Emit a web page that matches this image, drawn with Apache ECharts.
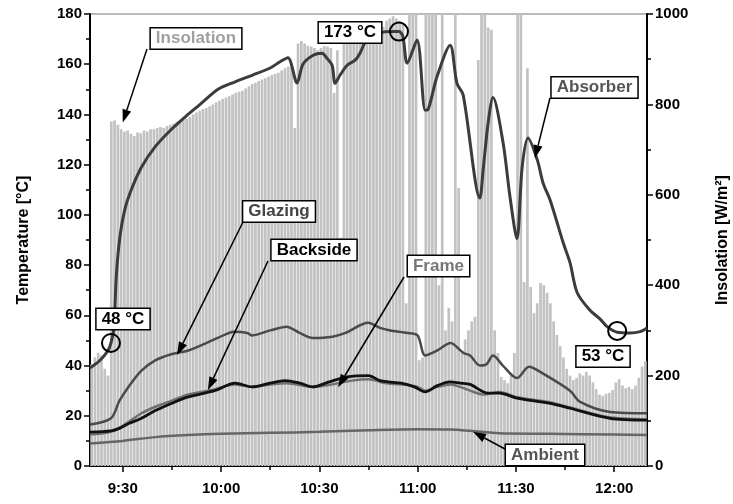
<!DOCTYPE html>
<html><head><meta charset="utf-8">
<script src="https://cdn.jsdelivr.net/npm/echarts@6/dist/echarts.min.js"></script>
<style>html,body{margin:0;padding:0;background:#fff}#c{width:733px;height:504px}</style>
</head><body><div id="c"></div>
<script>
// ---------- DATA ----------
const xTickLabels = ["9:30","10:00","10:30","11:00","11:30","12:00"];
const xMinorTicks = ["9:45","10:15","10:45","11:15","11:45"];
const xRange = ["9:20","12:10"];
const insolationStart = "9:20";   // one bar per minute
const insolation = [
 225,240,250,245,215,200,
 762,765,755,745,740,742,735,730,738,736,
 742,740,745,745,748,750,748,752,755,758,762,765,765,768,
 772,778,782,786,790,792,796,800,
 805,808,812,815,818,
 822,826,828,830,835,
 840,845,848,852,855,
 858,862,865,868,870,875,
 880,884,888,
 748,
 935,940,935,930,928,925,920,925,930,928,925,
 825,920,505,
 935,940,938,942,935,945,950,948,
 960,965,968,970,972,
 985,990,995,990,985,980,
 360,1000,1000,1000,234,240,1000,1000,1000,
 1000,400,1000,300,350,320,1000,615,250,280,300,320,330,898,1000,1000,970,965,300,250,197,190,183,200,250,1000,1000,
 407,880,396,338,360,405,400,383,
 360,320,290,265,240,215,200,190,195,205,200,208,200,185,170,158,155,160,162,168,185,192,178,172,175,170,178,195,220,232
];
const absorber = [
 ["9:20",39],["9:23",42],["9:25.5",46],["9:26.4",49],["9:27.3",55],["9:28",75],["9:29.1",91],["9:30.6",102],
 ["9:32.6",110],["9:35.7",119],["9:39.8",127],["9:44.8",134],["9:49.9",140],["9:53.6",144],["9:59.1",150],
 ["10:04.3",153],["10:09.5",155.6],["10:15",158.5],["10:18",161],["10:20.4",162.6],["10:23.2",152.5],["10:25",160],
 ["10:28.1",163.6],["10:30.8",164.4],["10:32.3",162.4],["10:33.9",159.6],["10:34.8",152.4],["10:36.3",155.6],
 ["10:38.5",159.6],["10:40.9",161.6],["10:42.4",164.4],["10:44.9",170.8],["10:48.5",172.5],["10:51.6",173],
 ["10:54.3",173],["10:55.5",171],["10:56.8",160.4],["10:59.8",169.6],["11:02.3",141.7],["11:03.2",142],
 ["11:05.9",155],["11:09.9",167.6],["11:12",152.4],["11:13.9",147.7],["11:19",106.7],["11:20",118],
 ["11:21.5",136.5],["11:23",146.7],["11:26.1",128.5],["11:28.2",107],["11:30.3",90.5],["11:31.9",119],
 ["11:33.7",130.6],["11:36.5",122],["11:38.3",112.6],["11:40.4",106],["11:44.4",89],["11:46.5",81],
 ["11:48.7",69],["11:52.6",62],["11:55.7",58.5],["11:57.8",55.5],["12:00.9",53.3],["12:04.8",53],
 ["12:07.9",53.5],["12:10",55]
];
const glazing = [
 ["9:20",16.5],["9:26.4",19],["9:29",26],["9:32",32],["9:35.7",38],["9:39.8",42],["9:44.8",44.5],["9:50",46],
 ["9:59",51],["10:04",53.5],["10:08",53],["10:09.5",52],["10:15",54],["10:20",55.5],["10:24",53],["10:28",51],
 ["10:34",51.5],["10:38",53],["10:44.9",57],["10:48.5",55],["10:51.6",54],["10:57",53],["11:00",52],
 ["11:02.3",44],["11:06",46],["11:10",49],["11:14",45],["11:16",44],["11:19",40],["11:21",40.5],["11:23",44],
 ["11:26",40],["11:30.3",35],["11:34",39.5],["11:38",37],["11:46.5",30],["11:49.6",25.5],["11:58.7",21.5],["12:10",21]
];
const backside = [
 ["9:20",13.5],["9:26.4",14],["9:29",15],["9:32",17],["9:35.7",19],["9:39.8",22],["9:45",25],["9:50",27.5],
 ["9:58",30],["10:04.3",33],["10:09.5",31.5],["10:15",33],["10:19.5",34],["10:24",33],["10:28",31.5],
 ["10:33",33.5],["10:38.5",35.5],["10:45",36],["10:48.5",34],["10:51",33.5],["10:55",33],["10:59",31.5],
 ["11:02.3",29.5],["11:06",32],["11:09.9",33.5],["11:13",33],["11:16",32.5],["11:21.5",29],["11:25",29],
 ["11:30.3",27],["11:40",25],["11:46.5",23],["11:58.7",19],["12:10",18.3]
];
const frame = [
 ["9:20",12.5],["9:26",13.5],["9:30",16],["9:35.7",21],["9:39.8",23.5],["9:45",26],["9:50",28.5],["9:58",30.5],
 ["10:04",32.5],["10:09.5",31.5],["10:15",32.5],["10:20",33],["10:28",31.5],["10:34",32.5],["10:40",34],
 ["10:45",34.5],["10:50",33],["10:55",32.5],["11:00",31.5],["11:02.3",30],["11:06",31.5],["11:10",32.5],
 ["11:16",30],["11:20",28.5],["11:25",29.5],["11:30",27.5],["11:40",25.5],["11:46",23.5],["11:58",19.5],["12:10",18.5]
];
const ambient = [
 ["9:20",9],["9:30",10],["9:40",11.5],["9:50",12.3],["10:00",12.8],["10:15",13.2],["10:30",13.6],["10:45",14.2],
 ["11:00",14.6],["11:10",14.5],["11:16",14],["11:25",13],["11:40",12.8],["12:00",12.5],["12:10",12.3]
];
const tempTicks = {min:0, max:180, step:20};
const insTicks = {min:0, max:1000, step:200};

// ---------- HELPERS ----------
function tm(s){const p=s.split(':');return (+p[0])*60+parseFloat(p[1]);}
function fmt(v){const h=Math.floor(v/60), m=Math.round(v-h*60);return h+':'+(m<10?'0':'')+m;}
const pts = arr => arr.map(d=>[tm(d[0]), d[1]]);
const FONT = '"Liberation Sans", Arial, Helvetica, sans-serif';
const t0 = tm(insolationStart);

const chart = echarts.init(document.getElementById('c'), null, {renderer:'canvas'});
const axisLbl = {color:'#000', fontSize:15, fontWeight:'bold', fontFamily:FONT};
const lineStyleBlack = {color:'#000', width:2};

const option = {
  animation:false,
  backgroundColor:'#fff',
  grid:{left:90, right:86, top:14, bottom:38, outerBoundsMode:'none', containLabel:false,
        show:true, borderColor:'#777', borderWidth:1},
  xAxis:[
    {type:'value', min:tm(xRange[0]), max:tm(xRange[1]), position:'bottom',
     axisLine:{show:true, onZero:false, lineStyle:lineStyleBlack},
     axisTick:{show:true, length:6, customValues:xTickLabels.map(tm), lineStyle:{color:'#000', width:1.5}},
     axisLabel:{...axisLbl, margin:15, customValues:xTickLabels.map(tm), formatter:fmt},
     splitLine:{show:false}},
    {type:'value', min:tm(xRange[0]), max:tm(xRange[1]), position:'bottom',
     axisLine:{show:false},
     axisTick:{show:true, length:4, customValues:xMinorTicks.map(tm), lineStyle:{color:'#000', width:1.5}},
     axisLabel:{show:false}, splitLine:{show:false}}
  ],
  yAxis:[
    {type:'value', min:tempTicks.min, max:tempTicks.max, interval:tempTicks.step, position:'left',
     name:'Temperature [°C]', nameLocation:'middle', nameGap:58, nameRotate:90,
     nameTextStyle:{color:'#000', fontSize:16, fontWeight:'bold', fontFamily:FONT},
     axisLine:{show:true, lineStyle:lineStyleBlack},
     axisTick:{show:true, length:6, lineStyle:{color:'#000', width:1.5}},
     minorTick:{show:true, splitNumber:2, length:4, lineStyle:{color:'#000', width:1.5}},
     axisLabel:{...axisLbl, margin:8, formatter:v=>String(v)}, splitLine:{show:false}},
    {type:'value', min:insTicks.min, max:insTicks.max, interval:insTicks.step, position:'right',
     name:'Insolation [W/m²]', nameLocation:'middle', nameGap:68, nameRotate:90,
     nameTextStyle:{color:'#000', fontSize:16, fontWeight:'bold', fontFamily:FONT},
     axisLine:{show:true, lineStyle:lineStyleBlack},
     axisTick:{show:true, length:6, lineStyle:{color:'#000', width:1.5}},
     minorTick:{show:true, splitNumber:2, length:4, lineStyle:{color:'#000', width:1.5}},
     axisLabel:{...axisLbl, margin:8, formatter:v=>String(v)}, splitLine:{show:false}}
  ],
  series:[
    {name:'Insolation', type:'bar', xAxisIndex:0, yAxisIndex:1, barWidth:2.7, z:1,
     itemStyle:{color:'#c2c2c2'}, data:insolation.map((v,i)=>[t0+i+0.5, v])},
    {name:'Ambient', type:'line', yAxisIndex:0, showSymbol:false, smooth:0.3, z:3,
     lineStyle:{color:'#666', width:2.5}, data:pts(ambient)},
    {name:'Frame', type:'line', yAxisIndex:0, showSymbol:false, smooth:0.3, z:3,
     lineStyle:{color:'#707070', width:2.5}, data:pts(frame)},
    {name:'Backside', type:'line', yAxisIndex:0, showSymbol:false, smooth:0.3, z:4,
     lineStyle:{color:'#111', width:2.8}, data:pts(backside)},
    {name:'Glazing', type:'line', yAxisIndex:0, showSymbol:false, smooth:0.3, z:4,
     lineStyle:{color:'#4a4a4a', width:2.5}, data:pts(glazing)},
    {name:'Absorber', type:'line', yAxisIndex:0, showSymbol:false, smooth:0.3, z:5,
     lineStyle:{color:'#3c3c3c', width:3}, data:pts(absorber)}
  ]
};
chart.setOption(option);

// ---------- ANNOTATIONS ----------
const labels = [
  {text:'Insolation', color:'#a0a0a0', cx:196, cy:38.5, from:[147,49], to:['9:30',760], axis:1},
  {text:'Absorber', color:'#555', cx:594.5, cy:87.5, from:[550,98], to:['11:35.8',122.6], axis:0},
  {text:'Glazing', color:'#444', cx:279, cy:211.5, from:[243,222], to:['9:46.6',44.2], axis:0},
  {text:'Backside', color:'#000', cx:314, cy:250, from:[268,261], to:['9:56',30.3], axis:0},
  {text:'Frame', color:'#777', cx:438.5, cy:266, from:[404,277], to:['10:35.7',31.4], axis:0},
  {text:'Ambient', color:'#555', cx:545, cy:455, from:[505,449], to:['11:16.9',13.6], axis:0},
  {text:'173 °C', color:'#000', cx:350, cy:32.5},
  {text:'48 °C', color:'#000', cx:123, cy:319},
  {text:'53 °C', color:'#000', cx:603, cy:356.5}
];
const circles = [["9:26.4",49],["10:54.3",173],["12:00.9",53.8]];

const g = [];
labels.forEach(l=>{
  if(l.to){
    const tip = chart.convertToPixel({xAxisIndex:0, yAxisIndex:l.axis}, [tm(l.to[0]), l.to[1]]);
    const [x1,y1]=l.from, [x2,y2]=tip;
    const dx=x2-x1, dy=y2-y1, L=Math.hypot(dx,dy), ux=dx/L, uy=dy/L;
    const hl=13, hw=4.5;
    const bx=x2-ux*hl, by=y2-uy*hl;
    g.push({type:'line', z:50, shape:{x1, y1, x2:bx, y2:by}, style:{stroke:'#000', lineWidth:1.5}});
    g.push({type:'polygon', z:50, shape:{points:[[x2,y2],[bx-uy*hw,by+ux*hw],[bx+uy*hw,by-ux*hw]]}, style:{fill:'#000'}});
  }
  g.push({type:'text', z:60, x:l.cx, y:l.cy, style:{text:l.text, fill:l.color, font:'bold 17px '+FONT,
    align:'center', verticalAlign:'middle', backgroundColor:'#fff', borderColor:'#000', borderWidth:1.5, padding:[2,5,1,5]}});
});
circles.forEach(c=>{
  const p = chart.convertToPixel({xAxisIndex:0, yAxisIndex:0}, [tm(c[0]), c[1]]);
  g.push({type:'circle', z:55, shape:{cx:p[0], cy:p[1], r:9}, style:{fill:'none', stroke:'#000', lineWidth:2}});
});
chart.setOption({graphic:g});
</script></body></html>
